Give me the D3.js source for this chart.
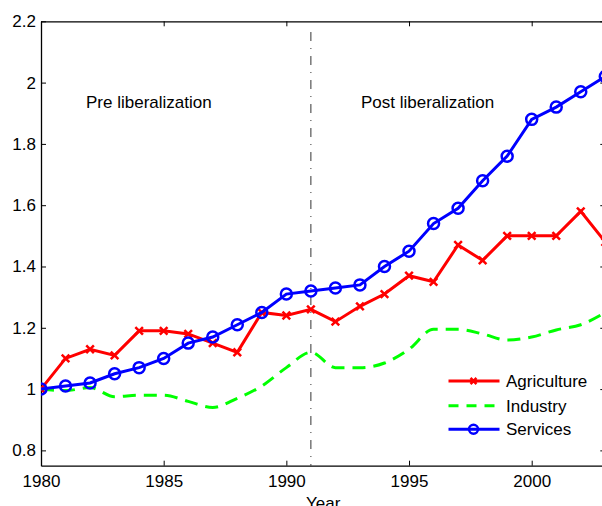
<!DOCTYPE html>
<html><head><meta charset="utf-8">
<script src="https://cdn.jsdelivr.net/npm/d3@7"></script>
<style>body{margin:0;background:#fff;overflow:hidden}svg{display:block}text{font-family:"Liberation Sans",Arial,sans-serif}</style>
</head><body><svg id="c" width="602" height="506"></svg>
<script>
const years = d3.range(1980, 2004);
const agriculture = [1.00,1.10,1.13,1.11,1.19,1.19,1.18,1.15,1.12,1.25,1.24,1.26,1.22,1.27,1.31,1.37,1.35,1.47,1.42,1.50,1.50,1.50,1.58,1.48];
const industry    = [1.00,0.995,1.005,0.975,0.98,0.98,0.96,0.94,0.97,1.01,1.07,1.12,1.07,1.07,1.085,1.13,1.195,1.195,1.18,1.16,1.17,1.193,1.21,1.25];
const services    = [1.00,1.01,1.02,1.05,1.07,1.10,1.15,1.17,1.21,1.25,1.31,1.32,1.33,1.34,1.40,1.45,1.54,1.59,1.68,1.76,1.88,1.92,1.97,2.02];
const xTicks = [1980,1985,1990,1995,2000];
const yTicks = [0.8,1,1.2,1.4,1.6,1.8,2,2.2];
const seriesNames = ["Agriculture","Industry","Services"];
const liberalizationYear = 1991;

const svg = d3.select("#c");
const FS = 17;
const L = 41, R = 605.3, T = 21.3, B = 465.7;
const x = d3.scaleLinear().domain([1980,2003]).range([L,R]);
const y = d3.scaleLinear().domain([0.75,2.2]).range([B,T]);

svg.append("defs").append("clipPath").attr("id","clip").append("rect").attr("x",L).attr("y",T).attr("width",R-L).attr("height",B-T);

const fmt = d => String(d);
const xb = svg.append("g").attr("transform",`translate(0,${B})`).call(d3.axisBottom(x).tickValues(xTicks).tickFormat(fmt).tickSizeInner(-5).tickSizeOuter(0).tickPadding(9));
const xt = svg.append("g").attr("transform",`translate(0,${T})`).call(d3.axisTop(x).tickValues(xTicks).tickFormat("").tickSizeInner(-5).tickSizeOuter(0));
const yl = svg.append("g").attr("transform",`translate(${L},0)`).call(d3.axisLeft(y).tickValues(yTicks).tickFormat(fmt).tickSizeInner(-5).tickSizeOuter(0).tickPadding(5));
const yr = svg.append("g").attr("transform",`translate(${R},0)`).call(d3.axisRight(y).tickValues(yTicks).tickFormat("").tickSizeInner(-5).tickSizeOuter(0));
[xb,xt,yl,yr].forEach(g=>{
  g.selectAll("path").attr("stroke","#000").attr("stroke-width",1.3);
  g.selectAll("line").attr("stroke","#000").attr("stroke-width",1);
  g.selectAll("text").attr("font-size",FS).attr("fill","#000").attr("font-family","Liberation Sans, Arial, sans-serif");
});

svg.append("text").attr("x",(L+R)/2).attr("y",509).attr("text-anchor","middle").attr("font-size",FS).text("Year");

svg.append("line").attr("x1",x(liberalizationYear)).attr("x2",x(liberalizationYear))
  .attr("y1",y(2.165)).attr("y2",B).attr("stroke","#333").attr("stroke-width",1)
  .attr("stroke-dasharray","9,7,1,7");

svg.append("text").attr("x",86).attr("y",107.5).attr("font-size",FS).text("Pre liberalization");
svg.append("text").attr("x",361).attr("y",107.5).attr("font-size",FS).text("Post liberalization");

const plot = svg.append("g").attr("clip-path","url(#clip)");
const line = d3.line().x((d,i)=>x(years[i])).y(d=>y(d));

plot.append("path").datum(industry).attr("d", line.curve(d3.curveMonotoneX)).attr("fill","none")
  .attr("stroke","#00ff00").attr("stroke-width",3).attr("stroke-dasharray","13,8");

line.curve(d3.curveLinear);
plot.append("path").datum(agriculture).attr("d", line).attr("fill","none").attr("stroke","#ff0000").attr("stroke-width",3);
function xMark(g, cx, cy, s, color){
  g.append("path").attr("d",`M${cx-s},${cy-s}L${cx+s},${cy+s}M${cx-s},${cy+s}L${cx+s},${cy-s}`)
    .attr("stroke",color).attr("stroke-width",2.5).attr("fill","none");
}
agriculture.forEach((v,i)=>xMark(plot, x(years[i]), y(v), 3.8, "#ff0000"));

plot.append("path").datum(services).attr("d", line).attr("fill","none").attr("stroke","#0000ff").attr("stroke-width",3);
plot.selectAll("circle.s").data(services).join("circle").attr("class","s")
  .attr("cx",(d,i)=>x(years[i])).attr("cy",d=>y(d)).attr("r",5.5)
  .attr("fill","none").attr("stroke","#0000ff").attr("stroke-width",2.5);

const lg = svg.append("g");
const ly = [381,405.7,429.3];
const lx1 = 448.5, lx2 = 499.5, lxm = 473.5;
lg.append("line").attr("x1",lx1).attr("x2",lx2).attr("y1",ly[0]).attr("y2",ly[0]).attr("stroke","#ff0000").attr("stroke-width",3);
xMark(lg, lxm, ly[0], 3, "#ff0000");
lg.append("line").attr("x1",lx1).attr("x2",lx2).attr("y1",ly[1]).attr("y2",ly[1]).attr("stroke","#00ff00").attr("stroke-width",3).attr("stroke-dasharray","10,8");
lg.append("line").attr("x1",lx1).attr("x2",lx2).attr("y1",ly[2]).attr("y2",ly[2]).attr("stroke","#0000ff").attr("stroke-width",3);
lg.append("circle").attr("cx",lxm).attr("cy",ly[2]).attr("r",4.5).attr("fill","none").attr("stroke","#0000ff").attr("stroke-width",2.5);
seriesNames.forEach((n,i)=>lg.append("text").attr("x",506).attr("y",ly[i]+6).attr("font-size",FS).text(n));
</script></body></html>
